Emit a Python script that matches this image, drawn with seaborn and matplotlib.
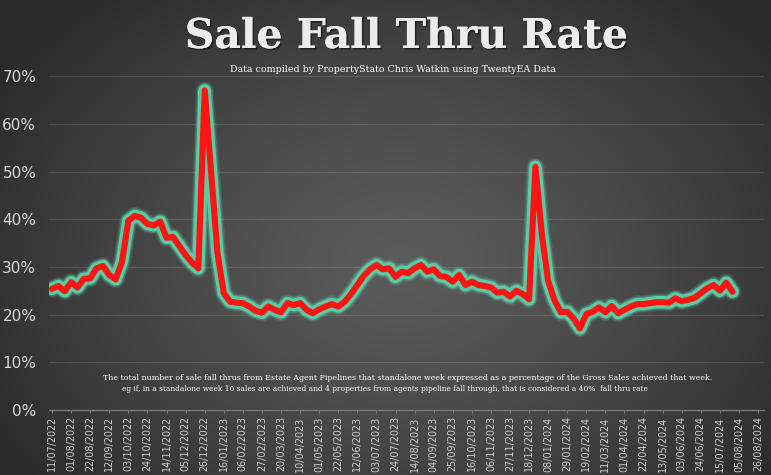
import numpy as np
import pandas as pd
import matplotlib
matplotlib.use("Agg")
import matplotlib.pyplot as plt
import matplotlib.patheffects as pe
import seaborn as sns

# ---- data ----
week_index = list(range(108))
fall_thru_rate = [
    25.4, 26.0, 24.9, 26.8, 25.7, 27.5, 27.6, 29.7, 30.2, 28.3,
    27.4, 31.1, 39.7, 40.7, 40.3, 39.0, 38.7, 39.5, 36.1, 36.3,
    34.4, 32.5, 30.9, 29.7, 67.0, 50.0, 33.0, 24.5, 22.7, 22.5,
    22.4, 21.7, 20.8, 20.4, 21.7, 21.0, 20.5, 22.4, 22.0, 22.4,
    21.0, 20.3, 21.1, 21.7, 22.2, 21.7, 22.7, 24.3, 26.2, 28.1,
    29.5, 30.4, 29.5, 29.7, 27.9, 29.0, 28.7, 29.7, 30.4, 29.0,
    29.5, 28.1, 27.9, 26.9, 28.3, 26.2, 26.9, 26.2, 26.0, 25.7,
    24.6, 24.8, 23.8, 25.0, 24.3, 23.2, 51.0, 37.0, 27.0, 23.0,
    20.5, 20.6, 19.2, 17.1, 20.1, 20.6, 21.5, 20.5, 21.8, 20.3,
    21.0, 21.7, 22.2, 22.2, 22.4, 22.6, 22.6, 22.5, 23.4, 22.8,
    23.1, 23.5, 24.5, 25.5, 26.2, 25.0, 26.7, 24.8,
]
tick_labels = [
    "11/07/2022", "01/08/2022", "22/08/2022", "12/09/2022", "03/10/2022",
    "24/10/2022", "14/11/2022", "05/12/2022", "26/12/2022", "16/01/2023",
    "06/02/2023", "27/02/2023", "20/03/2023", "10/04/2023", "01/05/2023",
    "22/05/2023", "12/06/2023", "03/07/2023", "24/07/2023", "14/08/2023",
    "04/09/2023", "25/09/2023", "16/10/2023", "06/11/2023", "27/11/2023",
    "18/12/2023", "08/01/2024", "29/01/2024", "19/02/2024", "11/03/2024",
    "01/04/2024", "22/04/2024", "13/05/2024", "03/06/2024", "24/06/2024",
    "15/07/2024", "05/08/2024", "26/08/2024",
]
tick_step_weeks = 3
y_ticks = [0, 10, 20, 30, 40, 50, 60, 70]

df = pd.DataFrame({"week": week_index, "rate": fall_thru_rate})

sns.set_theme(style="dark")
plt.rcParams["font.family"] = ["DejaVu Sans"]

W, H = 771, 475
fig = plt.figure(figsize=(W / 100, H / 100), dpi=100)

# radial gradient background
bg = fig.add_axes([0, 0, 1, 1], zorder=-10)
yy, xx = np.mgrid[0:H, 0:W]
r = np.sqrt(((xx - 0.52 * W) / (0.62 * W)) ** 2 + ((yy - 0.55 * H) / (0.75 * H)) ** 2)
r = np.clip(r, 0, 1)
center, edge = 0x5b / 255, 0x2a / 255
img = center * (1 - r ** 1.3) + edge * r ** 1.3
bg.imshow(np.dstack([img, img, img]), aspect="auto", extent=[0, 1, 0, 1])
bg.axis("off")

left, right = 49.5, 764.4
top, bottom = 74.7, 410
ax = fig.add_axes([left / W, (H - bottom) / H, (right - left) / W, (bottom - top) / H])
ax.set_facecolor("none")

glow = "#5ccaa5"
for lw, a in [(13, 0.15), (11, 0.35), (9, 1.0)]:
    sns.lineplot(data=df, x="week", y="rate", ax=ax, color=glow, linewidth=lw,
                 alpha=a, solid_capstyle="round", solid_joinstyle="round", legend=False)
sns.lineplot(data=df, x="week", y="rate", ax=ax, color="#ff1414", linewidth=4.4,
             solid_capstyle="round", solid_joinstyle="round", legend=False)

ax.set_xlim(-0.4, 112)
ax.set_ylim(0, 70.3)
ax.set_xticks([i * tick_step_weeks for i in range(len(tick_labels))])
ax.set_xticklabels(tick_labels, rotation=90, fontsize=6.9, color="#cfcfcf")
ax.set_yticks(y_ticks)
ax.set_yticklabels([f"{v}%" for v in y_ticks], fontsize=11, color="#d8d8d8")
ax.set_xlabel("")
ax.set_ylabel("")
ax.grid(False)
for v in y_ticks[1:]:
    ax.axhline(v, color="white", alpha=0.12, linewidth=0.9, zorder=0)
for s in ["top", "right", "left"]:
    ax.spines[s].set_visible(False)
ax.spines["bottom"].set_color("#7c7c7c")
ax.spines["bottom"].set_linewidth(0.9)
ax.tick_params(axis="x", length=2.5, width=0.8, color="#7c7c7c", pad=2, bottom=True)
ax.tick_params(axis="y", length=0, pad=9.5)

# titles
fig.text(0.527, 1 - 37 / H, "Sale Fall Thru Rate", ha="center", va="center",
         fontsize=29.5, fontweight="bold", family="DejaVu Serif", color="#ececec",
         path_effects=[pe.withSimplePatchShadow(offset=(1.2, -1.2), shadow_rgbFace="black", alpha=0.45),
                       pe.Normal()])
fig.text(0.509, 1 - 70 / H, "Data compiled by PropertyStato Chris Watkin using TwentyEA Data",
         ha="center", va="center", fontsize=6.8, family="DejaVu Serif", color="white")

fig.text(103 / W, 1 - 378 / H,
         "The total number of sale fall thrus from Estate Agent Pipelines that standalone week expressed as a percentage of the Gross Sales achieved that week.",
         ha="left", va="center", fontsize=5.66, family="DejaVu Serif", color="white")
fig.text(122 / W, 1 - 389 / H,
         "eg if, in a standalone week 10 sales are achieved and 4 properties from agents pipeline fall through, that is considered a 40%  fall thru rate",
         ha="left", va="center", fontsize=5.45, family="DejaVu Serif", color="white")

fig.savefig("out.png", dpi=100)
